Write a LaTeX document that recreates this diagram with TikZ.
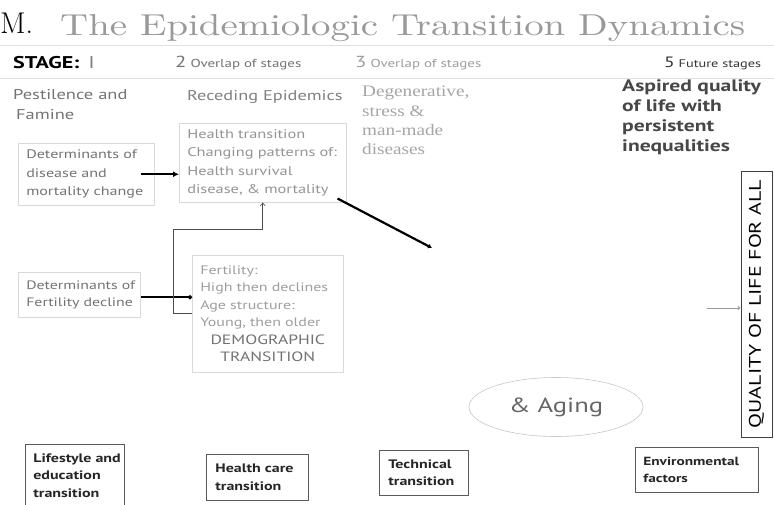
\documentclass[tikz,border=0pt]{standalone}
\usepackage{graphicx}
\usepackage{fontspec}
\setsansfont[FakeStretch=1.3]{PT Sans}
\newfontfamily\degfont[FakeStretch=1.2]{Liberation Serif}
\usetikzlibrary{arrows.meta,shapes.geometric}
\tikzset{
  rule/.style={draw=black!12, line width=0.6pt},
  txt/.style={inner sep=0pt, font=\sffamily},
  faintbox/.style={draw=black!15, line width=0.5pt, rectangle, anchor=north west,
    inner xsep=8pt, inner ysep=0pt, align=left,
    font=\sffamily\fontsize{12.6}{18.5}\selectfont},
  darkbox/.style={draw=black!65, line width=0.7pt, rectangle, anchor=north west,
    inner xsep=8pt, inner ysep=0pt, align=left, text=black!85,
    font=\sffamily\bfseries\fontsize{12.3}{17.5}\selectfont},
  thickarrow/.style={line width=2.2pt, draw=black, -{Latex[length=6pt,width=6pt]}},
  conn/.style={line width=0.6pt, draw=black!70, -{Straight Barb[length=3pt,width=5pt]}},
  grayarrow/.style={line width=1pt, draw=black!40, -{Straight Barb[length=2pt,width=3pt]}}
}
\begin{document}
\begin{tikzpicture}[x=1pt,y=-1pt]
\useasboundingbox[fill=white] (0,0) rectangle (774,504);

% title
\node[anchor=base west, inner sep=0pt, font=\rmfamily\fontsize{30}{30}\selectfont] (m) at (0,33) {M.};
\node[anchor=base west, inner sep=0pt, text=black!40] (title) at (60,35)
  {\resizebox{685pt}{21pt}{\rmfamily The Epidemiologic Transition Dynamics}};
\draw[rule] (0,45) -- (774,45);
\draw[rule] (0,78) -- (774,78);

% stage header
\node[txt, anchor=base west, font=\sffamily\bfseries\fontsize{17}{17}\selectfont] (stage) at (13,68)
  {STAGE:\hspace{9pt}\textcolor{black!50}{\mdseries I}};
\node[txt, anchor=base west, text=black!55, font=\sffamily\fontsize{11.5}{12}\selectfont] (s2) at (175,67)
  {{\fontsize{16}{16}\selectfont 2} Overlap of stages};
\node[txt, anchor=base west, text=black!38, font=\sffamily\fontsize{11.5}{12}\selectfont] (s3) at (355,67)
  {{\fontsize{16}{16}\selectfont 3} Overlap of stages};
\node[txt, anchor=base west, text=black!80, font=\sffamily\fontsize{11}{12}\selectfont] (s5) at (664,67)
  {{\fontsize{15}{15}\selectfont 5} Future stages};

% stage descriptions
\node[txt, anchor=north west, align=left, text=black!55, font=\sffamily\fontsize{14.2}{20}\selectfont] (pest) at (13,89)
  {Pestilence and\\\hspace{3pt}Famine};
\node[txt, anchor=base west, text=black!50, font=\sffamily\fontsize{14.1}{20}\selectfont] (reced) at (187,100)
  {Receding Epidemics};
\node[txt, anchor=north west, align=left, text=black!35, font=\degfont\fontsize{16}{19.3}\selectfont] (degen) at (362,86)
  {Degenerative,\\stress \&\\man-made\\diseases};
\node[txt, anchor=north west, align=left, text=black!72, font=\sffamily\bfseries\fontsize{16.6}{20}\selectfont] (aspired) at (622,79)
  {Aspired quality\\of life with\\persistent\\inequalities};

% boxes
\node[faintbox, minimum width=167pt, minimum height=79pt, text width=151pt, text=black!42] (health) at (179,123)
  {\mbox{Health transition}\\\mbox{Changing patterns of:}\\\mbox{Health survival}\\\mbox{disease, \& mortality}};
\node[faintbox, minimum width=136pt, minimum height=62pt, text width=120pt, text=black!55,
  font=\sffamily\fontsize{12.4}{18.5}\selectfont] (dmort) at (18,143)
  {\mbox{Determinants of}\\\mbox{disease and}\\\mbox{mortality change}};
\node[faintbox, minimum width=122pt, minimum height=45pt, text width=106pt, inner xsep=8pt, text=black!55,
  font=\sffamily\fontsize{12.2}{17}\selectfont] (dfert) at (18,272)
  {\mbox{Determinants of}\\\mbox{Fertility decline}};
\node[faintbox, minimum width=151pt, minimum height=117pt, text width=135pt, text=black!38,
  font=\sffamily\fontsize{12.3}{17.5}\selectfont] (fert) at (192,255)
  {\mbox{Fertility:}\\\mbox{High then declines}\\\mbox{Age structure:}\\\mbox{Young, then older}\\
   \textcolor{black!55}{\makebox[\linewidth][c]{\fontsize{13.5}{17.5}\selectfont DEMOGRAPHIC}}\\
   \textcolor{black!55}{\makebox[\linewidth][c]{\fontsize{13.5}{17.5}\selectfont TRANSITION}}};

% connectors
\draw[thickarrow] ([xshift=-14pt]dmort.east) -- (dmort.east -| health.west);
\draw[line width=2pt, -{Circle[length=4pt]}] ([yshift=-2.5pt]dfert.east) -- ([yshift=-2.5pt]dfert.east -| fert.west);
\draw[conn] ([yshift=-58pt]fert.north west) -- ++(-19,0) -- ++(0,-84) -| (health.south);
\coordinate (diagend) at (432,248);
\draw[line width=2.2pt, -{Latex[length=4pt,width=5pt]}] ([shift={(-9,-4)}]health.south east) -- (diagend);

% aging ellipse
\node[ellipse, draw=black!22, line width=0.6pt, minimum width=174pt, minimum height=59pt, inner sep=0pt,
  text=black!60, font=\sffamily\fontsize{20.5}{21}\selectfont] (aging) at (556,407) {\& Aging};

% quality box
\node[draw=black!75, line width=0.8pt, rotate=90, minimum width=266pt, minimum height=31pt, inner sep=0pt,
  font=\sffamily\fontsize{16.8}{17}\selectfont] (qual) at (756.5,304) {QUALITY OF LIFE FOR ALL};
\coordinate (gstart) at (707,308);
\draw[grayarrow] (gstart) -- (gstart -| qual.north);

% bottom boxes
\node[darkbox, minimum width=99pt, minimum height=62pt, text width=83pt] (life) at (25,444)
  {\mbox{Lifestyle and}\\\mbox{education}\\\mbox{transition}};
\node[darkbox, minimum width=102pt, minimum height=46pt, text width=84pt, inner xsep=9pt] (hcare) at (206,454)
  {\mbox{Health care}\\\mbox{transition}};
\node[darkbox, minimum width=89pt, minimum height=45pt, text width=71pt, inner xsep=9pt] (tech) at (379,450)
  {\mbox{Technical}\\\mbox{transition}};
\node[darkbox, minimum width=123pt, minimum height=45pt, text width=107pt,
  font=\sffamily\bfseries\fontsize{11.8}{17.5}\selectfont] (env) at (635,447)
  {\mbox{Environmental}\\\mbox{factors}};
\end{tikzpicture}
\end{document}
